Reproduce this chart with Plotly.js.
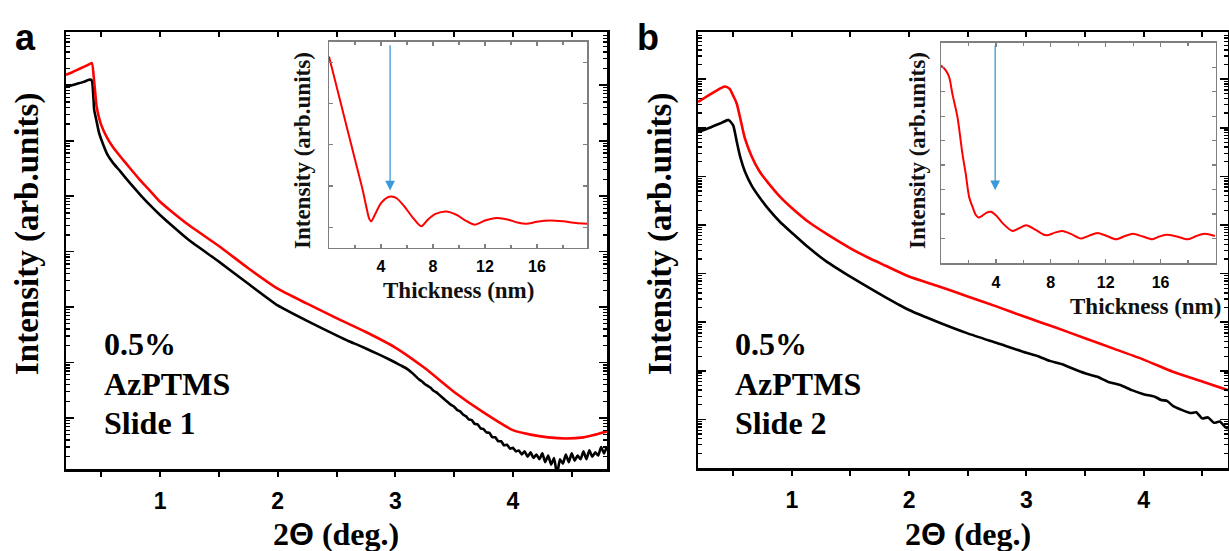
<!DOCTYPE html>
<html>
<head>
<meta charset="utf-8">
<script src="https://cdn.plot.ly/plotly-3.0.1.min.js"></script>
<style>html,body{margin:0;padding:0;background:#fff;}#chart{width:1229px;height:551px;}</style>
</head>
<body>
<div id="chart"></div>
<script>
// ---------- Panel a (main): 2θ (deg) vs intensity ----------
const aRedX = [0.2,0.25,0.3,0.35,0.4,0.42,0.44,0.46,0.48,0.5,0.55,0.6,0.66,0.75,0.83,0.9,1.0,1.1,1.25,1.5,1.75,2.0,2.25,2.5,2.75,3.0,3.25,3.5,3.75,4.0,4.15,4.3,4.45,4.6,4.7,4.8];
const aRedY = [1.55e7,1.70e7,1.91e7,2.14e7,2.40e7,2.51e7,1.12e7,4.17e6,2.63e6,1.91e6,1.12e6,7.59e5,5.25e5,3.09e5,1.95e5,1.35e5,7.94e4,5.25e4,2.95e4,1.26e4,5.01e3,2.14e3,1.15e3,631,355,186,79.4,29.5,12.6,6.03,5.01,4.47,4.27,4.47,5.01,5.75];

const aBlackX = [0.2,0.25,0.3,0.35,0.4,0.42,0.44,0.46,0.48,0.5,0.55,0.6,0.66,0.75,0.83,0.9,1.0,1.1,1.25,1.5,1.75,2.0,2.25,2.5,2.6,2.7,2.8,2.9,3.0,3.05,3.1,3.15,
  3.2,3.225,3.25,3.275,3.3,3.325,3.35,3.375,3.4,3.425,3.45,3.475,3.5,3.525,3.55,3.575,3.6,3.625,3.65,3.675,3.7,3.725,3.75,3.775,3.8,3.825,3.85,3.875,3.9,3.925,3.95,3.975,
  4.0,4.025,4.05,4.075,4.1,4.125,4.15,4.175,4.2,4.225,4.25,4.275,4.3,4.325,4.35,4.375,4.4,4.425,4.45,4.475,4.5,4.525,4.55,4.575,4.6,4.625,4.65,4.675,4.7,4.725,4.75,4.775,4.8];
const aBlackY = [9.3e6,1.0e7,1.07e7,1.15e7,1.26e7,1.22e7,3.55e6,2.24e6,1.41e6,1.05e6,5.75e5,3.98e5,2.82e5,1.66e5,1.07e5,7.41e4,4.57e4,2.95e4,1.58e4,6.61e3,2.63e3,1.07e3,562,309,245,200,160,128,100,88,77,63,
  50,46,41,38,35,31,29,26,23.5,21,19,17.2,16,14.0,13.2,11.6,10.8,9.4,9.2,7.8,7.7,6.5,6.3,5.5,5.4,4.5,4.5,3.8,3.8,3.2,3.3,2.8,
  2.9,2.5,2.6,2.2,2.5,2.0,2.4,1.9,2.2,1.8,2.3,1.6,2.1,1.45,1.9,0.95,1.8,1.5,2.2,1.6,2.3,1.7,2.1,1.8,2.5,1.8,2.6,2.0,2.4,2.1,3.0,2.3,3.1];

// ---------- Panel b (main) ----------
const bRedX = [0.2,0.3,0.4,0.43,0.47,0.5,0.53,0.56,0.6,0.66,0.72,0.8,0.9,1.0,1.15,1.3,1.5,1.65,1.8,2.0,2.25,2.5,2.75,3.0,3.25,3.5,3.75,4.0,4.25,4.5,4.72];
const bRedY = [3.39e6,4.79e6,6.61e6,7.08e6,6.31e6,4.57e6,3.16e6,1.58e6,6.03e5,2.51e5,1.32e5,7.24e4,3.80e4,2.24e4,1.12e4,6.46e3,3.31e3,2.14e3,1.45e3,871,550,339,209,126,77.6,46.8,28.2,17.0,9.55,6.03,3.98];

const bBlackX = [0.2,0.3,0.4,0.46,0.5,0.53,0.56,0.6,0.66,0.73,0.8,0.9,1.0,1.13,1.3,1.47,1.65,1.8,2.0,2.25,2.5,2.75,3.0,3.1,3.2,3.3,3.4,3.5,3.6,3.7,3.8,3.9,4.0,4.1,4.15,4.2,4.25,4.33,4.4,4.45,4.5,4.55,4.6,4.65,4.7,4.72];
const bBlackY = [8.13e5,1.0e6,1.26e6,1.45e6,1.12e6,5.25e5,2.51e5,1.26e5,6.31e4,3.55e4,2.14e4,1.15e4,6.92e3,3.63e3,1.74e3,955,525,324,178,100,58.9,37.2,23.4,20.0,16.0,13.8,11.0,8.9,7.6,5.9,5.1,4.0,3.3,2.9,2.5,2.4,1.9,1.55,1.35,1.4,1.05,1.1,0.85,0.9,0.68,0.65];

// ---------- Insets: thickness (nm) vs intensity ----------
const insAX = [0,1,2,2.6,2.9,3.1,3.25,3.5,4.0,4.5,4.8,5.2,5.8,6.4,7.1,7.6,8.2,9.0,9.8,10.5,11.2,12.0,12.9,13.8,14.5,15.2,16.0,17.0,18.0,19.0,19.85];
const insAY = [5.14,3.89,2.64,1.89,1.45,1.2,1.14,1.28,1.58,1.72,1.74,1.70,1.50,1.25,1.02,1.18,1.32,1.38,1.30,1.16,1.06,1.16,1.22,1.18,1.11,1.08,1.13,1.16,1.14,1.10,1.08];

const insBX = [0,0.36,0.6,0.83,1.2,1.56,1.8,2.05,2.3,2.55,2.73,3.0,3.3,3.63,4.0,4.5,5.2,5.7,6.2,6.9,7.65,8.3,8.86,9.5,10.2,10.8,11.4,12.1,12.76,13.4,13.97,14.7,15.4,15.9,16.4,17.2,18.0,18.6,19.2,19.95];
const insBY = [8.07,7.86,7.59,6.91,5.96,4.47,3.65,2.7,2.29,1.95,1.86,1.93,2.05,2.09,1.95,1.62,1.31,1.42,1.54,1.35,1.13,1.24,1.31,1.18,1.0,1.12,1.23,1.1,0.97,1.1,1.19,1.08,0.97,1.08,1.15,1.08,0.97,1.1,1.19,1.1];

// inset tick labels
const insetTicks = [4, 8, 12, 16];

// arrows in insets (thickness nm, tip value, tail value)
const arrowA = {x: 4.7, tip: 1.89, tail: 5.45};
const arrowB = {x: 3.95, tip: 2.97, tail: 8.95};

// texts
const panelLetters = ['a', 'b'];
const sampleLines = [['0.5%', 'AzPTMS', 'Slide 1'], ['0.5%', 'AzPTMS', 'Slide 2']];
const mainYTitle = 'Intensity (arb.units)';
const mainXTitle = '2<span style="font-family:Liberation Sans, Arial, sans-serif">\u0398</span> (deg.)';
const insetYTitle = 'Intensity (arb.units)';
const insetXTitle = 'Thickness (nm)';

// ---------- layout helpers ----------
const W = 1229, H = 551;
const px = v => v / W;
const py = v => 1 - v / H;
const SERIF = 'Liberation Serif, Times New Roman, serif';
const SANS = 'Liberation Sans, Arial, sans-serif';

const red = '#ff0000', black = '#000000';

const traces = [
  {x: aBlackX, y: aBlackY, xaxis: 'x', yaxis: 'y', mode: 'lines', line: {color: black, width: 2.6, shape: 'spline', smoothing: 0.4}},
  {x: aRedX, y: aRedY, xaxis: 'x', yaxis: 'y', mode: 'lines', line: {color: red, width: 2.6, shape: 'spline', smoothing: 0.6}},
  {x: bBlackX, y: bBlackY, xaxis: 'x2', yaxis: 'y2', mode: 'lines', line: {color: black, width: 2.6, shape: 'spline', smoothing: 0.5}},
  {x: bRedX, y: bRedY, xaxis: 'x2', yaxis: 'y2', mode: 'lines', line: {color: red, width: 2.6, shape: 'spline', smoothing: 0.6}},
  {x: insAX, y: insAY, xaxis: 'x3', yaxis: 'y3', mode: 'lines', line: {color: red, width: 2, shape: 'spline', smoothing: 0.8}},
  {x: insBX, y: insBY, xaxis: 'x4', yaxis: 'y4', mode: 'lines', line: {color: red, width: 2, shape: 'spline', smoothing: 0.8}},
  {x: [], y: [], xaxis: 'x5', yaxis: 'y', mode: 'lines'},
  {x: [], y: [], xaxis: 'x6', yaxis: 'y2', mode: 'lines'}
];
traces.forEach(t => { t.showlegend = false; t.hoverinfo = 'skip'; });

function mainX(domain, range, anchor) {
  return {
    domain: domain, range: range, anchor: anchor, showgrid: false, zeroline: false,
    showline: true, linecolor: black, linewidth: 2.5, mirror: true,
    ticks: 'outside', ticklen: 5, tickwidth: 2, tickcolor: black, dtick: 1, tick0: 0,
    minor: {dtick: 0.5, tick0: 0, ticks: 'outside', ticklen: 5, tickwidth: 2, tickcolor: black},
    tickfont: {family: SANS, size: 23, color: black, weight: 'bold'},
    ticklabelstandoff: 5
  };
}
function topX(over, anchor, range) {
  return {
    overlaying: over, anchor: anchor, side: 'top', range: range, showgrid: false, zeroline: false,
    showline: false, showticklabels: false, ticks: 'inside', ticklen: 5, tickwidth: 2, tickcolor: black,
    dtick: 0.5, tick0: 0
  };
}
function mainY(domain, range, anchor) {
  return {
    domain: domain, type: 'log', range: range, anchor: anchor, showgrid: false, zeroline: false,
    showline: true, linecolor: black, linewidth: 2.5, mirror: 'ticks',
    ticks: 'inside', ticklen: 8, tickwidth: 1.6, tickcolor: black, dtick: 1,
    minor: {ticks: 'inside', ticklen: 4, tickwidth: 1.3, tickcolor: black, dtick: 'D1'},
    showticklabels: false
  };
}
function insetX(domain, range, anchor) {
  return {
    domain: domain, range: range, anchor: anchor, showgrid: false, zeroline: false,
    showline: true, linecolor: '#7f7f7f', linewidth: 1.5, mirror: 'ticks',
    ticks: 'inside', ticklen: 4, tickwidth: 1.2, tickcolor: '#7f7f7f',
    tickmode: 'array', tickvals: insetTicks,
    minor: {dtick: 2, tick0: 0, ticks: 'inside', ticklen: 3, tickwidth: 1.2, tickcolor: '#7f7f7f'},
    tickfont: {family: SANS, size: 16, color: black, weight: 'bold'},
    ticklabelstandoff: 4
  };
}
function insetY(domain, range, anchor) {
  return {
    domain: domain, range: range, anchor: anchor, showgrid: false, zeroline: false,
    showline: true, linecolor: '#7f7f7f', linewidth: 1.5, mirror: 'ticks',
    ticks: 'inside', ticklen: 4, tickwidth: 1.2, tickcolor: '#7f7f7f', dtick: 1, tick0: 0,
    showticklabels: false
  };
}

const ann = [];
function txt(text, x, y, font, extra) {
  ann.push(Object.assign({text: text, x: px(x), y: py(y), xref: 'paper', yref: 'paper',
    showarrow: false, xanchor: 'center', yanchor: 'middle', font: font}, extra || {}));
}
const letterFont = {family: SANS, size: 36, color: black, weight: 'bold'};
const titleFont = {family: SERIF, size: 33, color: black, weight: 'bold'};
const xTitleFont = {family: SERIF, size: 32, color: black, weight: 'bold'};
const sampleFont = {family: SERIF, size: 32, color: black, weight: 'bold'};
const insetFont = {family: SERIF, size: 23, color: '#111', weight: 'bold'};

txt(panelLetters[0], 26, 37, letterFont);
txt(panelLetters[1], 648, 37, letterFont);
txt(mainYTitle, 27, 234, titleFont, {textangle: -90});
txt(mainYTitle, 660, 234, titleFont, {textangle: -90});
txt(mainXTitle, 336, 534, xTitleFont);
txt(mainXTitle, 968, 534, xTitleFont);
const lineY = [344, 384, 423];
sampleLines[0].forEach((s, i) => txt(s, 102, lineY[i], sampleFont, {xanchor: 'left'}));
sampleLines[1].forEach((s, i) => txt(s, 733, lineY[i], sampleFont, {xanchor: 'left'}));
txt(insetYTitle, 302, 151, insetFont, {textangle: -90});
txt(insetYTitle, 917, 151, insetFont, {textangle: -90});
txt(insetXTitle, 458, 290, insetFont);
txt(insetXTitle, 1145, 306, insetFont);

const arrowCol = '#3a9ad9';
[[arrowA, 'x3', 'y3'], [arrowB, 'x4', 'y4']].forEach(([a, xr, yr]) => {
  ann.push({text: '', x: a.x, y: a.tip, ax: a.x, ay: a.tail, xref: xr, yref: yr, axref: xr, ayref: yr,
    showarrow: true, arrowhead: 2, arrowsize: 1.5, arrowwidth: 1.3, arrowcolor: arrowCol, standoff: 0, startstandoff: 0});
});

const layout = {
  width: W, height: H, margin: {l: 0, r: 0, t: 0, b: 0},
  paper_bgcolor: '#fff', plot_bgcolor: 'rgba(0,0,0,0)', showlegend: false,
  xaxis: mainX([px(66), px(607)], [0.2, 4.8], 'y'),
  yaxis: mainY([py(469), py(32)], [0.08, 7.96], 'x'),
  xaxis2: mainX([px(698), px(1228)], [0.2, 4.72], 'y2'),
  yaxis2: mainY([py(468), py(32)], [-1.0, 7.97], 'x2'),
  xaxis3: insetX([px(329), px(587)], [0, 19.85], 'y3'),
  yaxis3: insetY([py(247.7), py(41.7)], [0.5, 5.5], 'x3'),
  xaxis4: insetX([px(941), px(1215.5)], [0, 20], 'y4'),
  yaxis4: insetY([py(263), py(42.7)], [0, 9], 'x4'),
  xaxis5: topX('x', 'y', [0.2, 4.8]),
  xaxis6: topX('x2', 'y2', [0.2, 4.72]),
  annotations: ann
};

Plotly.newPlot('chart', traces, layout, {staticPlot: true, displayModeBar: false});
</script>
</body>
</html>
